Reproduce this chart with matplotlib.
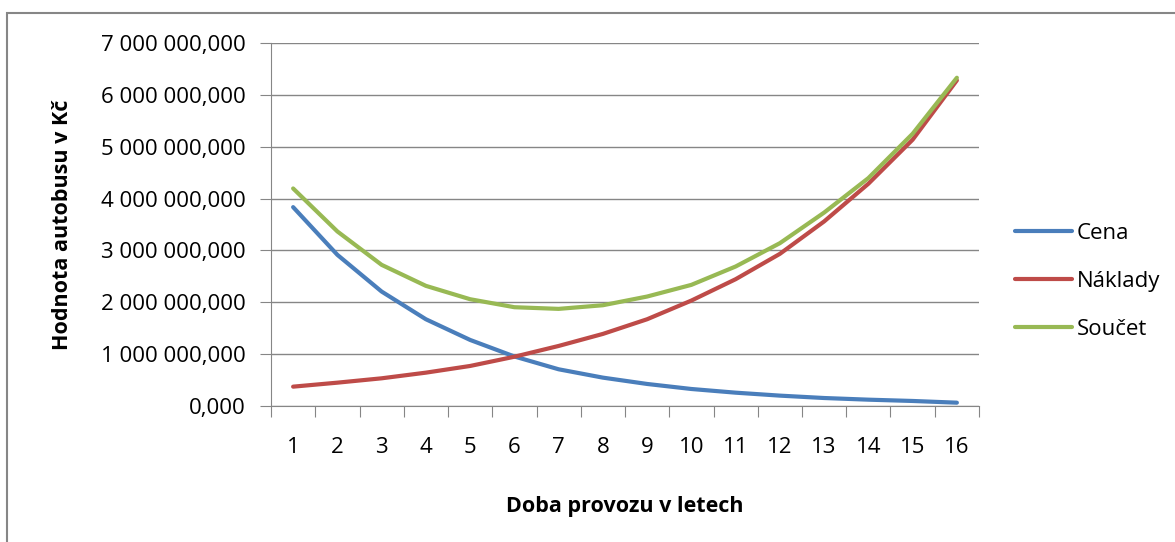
import matplotlib.pyplot as plt
from matplotlib.patches import Rectangle
from matplotlib.ticker import FuncFormatter, FixedLocator

years = list(range(1, 17))
cena = [3.835e6, 2.915e6, 2.207e6, 1.673e6, 1.274e6, 0.955e6, 0.708e6, 0.547e6,
        0.425e6, 0.328e6, 0.257e6, 0.200e6, 0.154e6, 0.122e6, 0.097e6, 0.064e6]
naklady = [0.373e6, 0.450e6, 0.534e6, 0.643e6, 0.772e6, 0.950e6, 1.158e6, 1.390e6,
           1.673e6, 2.033e6, 2.445e6, 2.934e6, 3.559e6, 4.286e6, 5.135e6, 6.280e6]
soucet = [4.195e6, 3.366e6, 2.722e6, 2.317e6, 2.059e6, 1.905e6, 1.873e6, 1.943e6,
          2.111e6, 2.336e6, 2.690e6, 3.140e6, 3.730e6, 4.395e6, 5.250e6, 6.330e6]

plt.rcParams['font.family'] = ['Open Sans', 'DejaVu Sans']

fig = plt.figure(figsize=(11.75, 5.42), dpi=100)
# outer chart border
fig.patches.append(Rectangle((7 / 1175, -0.1), 1.2, 1 - 13 / 542 + 0.1,
                             transform=fig.transFigure, fill=False,
                             edgecolor='#868686', lw=1.5))

ax = fig.add_axes([271 / 1175, 1 - 406 / 542, (979 - 271) / 1175, (406 - 43) / 542])

grid_c = '#868686'
ax.plot(years, cena, color='#4A7EBB', lw=3, label='Cena', solid_capstyle='round')
ax.plot(years, naklady, color='#BE4B48', lw=3, label='Náklady', solid_capstyle='round')
ax.plot(years, soucet, color='#98B954', lw=3, label='Součet', solid_capstyle='round')

ax.set_xlim(0.5, 16.5)
ax.set_ylim(0, 7e6)
ax.set_yticks([i * 1e6 for i in range(8)])
ax.yaxis.set_major_formatter(FuncFormatter(
    lambda v, p: f"{int(round(v)):,}".replace(',', ' ') + ',000'))
ax.grid(axis='y', color=grid_c, lw=1)
ax.set_axisbelow(True)

ax.xaxis.set_major_locator(FixedLocator([x + 0.5 for x in range(0, 17)]))
ax.xaxis.set_major_formatter(FuncFormatter(lambda v, p: ''))
ax.xaxis.set_minor_locator(FixedLocator(years))
ax.set_xticklabels([str(y) for y in years], minor=True)
ax.tick_params(axis='x', which='major', length=8, color=grid_c, direction='out')
ax.tick_params(axis='x', which='minor', length=0, pad=22, labelsize=16)
ax.tick_params(axis='y', length=8, color=grid_c, labelsize=16, pad=10)

for s in ['top', 'right']:
    ax.spines[s].set_visible(False)
for s in ['left', 'bottom']:
    ax.spines[s].set_color(grid_c)

ax.set_xlabel('Doba provozu v letech', fontsize=15.5, fontweight='bold', labelpad=28)
ax.set_ylabel('Hodnota autobusu v Kč', fontsize=15.5, fontweight='bold', labelpad=20)

ax.legend(loc='center left', bbox_to_anchor=(1.022, 0.344), frameon=False,
          fontsize=16, handlelength=2.6, handletextpad=0.2, labelspacing=1.22)

fig.savefig('out.png', dpi=100)
